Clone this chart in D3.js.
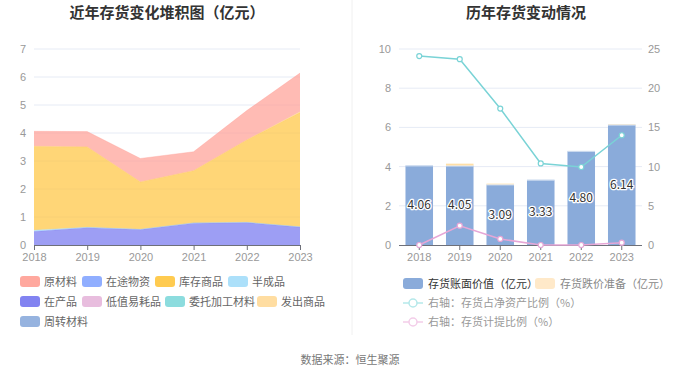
<!DOCTYPE html>
<html>
<head>
<meta charset="utf-8">
<script src="https://cdn.jsdelivr.net/npm/d3@7/dist/d3.min.js"></script>
<style>
  body { margin: 0; background: #fff; }
  svg { display: block; font-family: "Noto Sans CJK SC", "Noto Sans", sans-serif; }
</style>
</head>
<body>
<div id="chart"></div>
<script>
// years shared by both panels
const years = ['2018', '2019', '2020', '2021', '2022', '2023'];

// left panel: inventory breakdown (亿元)
const stockNames = ['原材料', '在途物资', '库存商品', '半成品', '在产品', '低值易耗品', '委托加工材料', '发出商品', '周转材料'];
const stockColors = ['#FF9E94', '#84A5FF', '#FFC53D', '#A3DDF9', '#7475F0', '#E5B6DA', '#80D8DA', '#FFD997', '#8BABDB'];
const rawMaterial = [0.53, 0.55, 0.84, 0.68, 1.05, 1.38];
const inTransit = [0, 0, 0, 0, 0, 0];
const finishedGoods = [2.99, 2.87, 1.69, 1.86, 2.94, 4.08];
const semiFinished = [0.05, 0.01, 0.01, 0.01, 0.01, 0.01];
const workInProgress = [0.48, 0.62, 0.55, 0.78, 0.80, 0.64];
const lowValue = [0, 0, 0, 0, 0, 0];
const consigned = [0, 0, 0, 0, 0, 0];
const shipped = [0.01, 0, 0, 0, 0, 0.03];
const turnover = [0, 0, 0, 0, 0, 0];
// stacking order from bottom to top as seen in the picture
const stackOrder = ['在产品', '半成品', '在途物资', '低值易耗品', '委托加工材料', '周转材料', '库存商品', '发出商品', '原材料'];
const leftTicks = [0, 1, 2, 3, 4, 5, 6, 7];

// right panel
const bookValue = [4.06, 4.05, 3.09, 3.33, 4.80, 6.14];
const impairment = [0, 0.1, 0.04, 0, 0, 0.02];
const ratioNetAssets = [24.1, 23.7, 17.4, 10.4, 9.95, 14.0];
const provisionRatio = [0, 2.46, 0.77, 0, 0, 0.3];
const rightLeftTicks = [0, 2, 4, 6, 8, 10];
const rightRightTicks = [0, 5, 10, 15, 20, 25];

const W = 700, H = 378;
const svg = d3.select('#chart').append('svg').attr('width', W).attr('height', H);

const gridColor = '#E6EBF5';
const labelColor = '#999';
const axisColor = '#6E7079';

// titles
svg.append('text').attr('x', 167).attr('y', 18).attr('text-anchor', 'middle')
  .attr('font-size', 15).attr('font-weight', 'bold').attr('fill', '#333')
  .text('近年存货变化堆积图（亿元）');
svg.append('text').attr('x', 526).attr('y', 18).attr('text-anchor', 'middle')
  .attr('font-size', 15).attr('font-weight', 'bold').attr('fill', '#333')
  .text('历年存货变动情况');

// divider
svg.append('line').attr('x1', 352).attr('x2', 352).attr('y1', 0).attr('y2', 335)
  .attr('stroke', '#F0F0F0').attr('stroke-width', 1);

// ---------- left: stacked area ----------
const seriesData = {
  '原材料': rawMaterial, '在途物资': inTransit, '库存商品': finishedGoods, '半成品': semiFinished,
  '在产品': workInProgress, '低值易耗品': lowValue, '委托加工材料': consigned, '发出商品': shipped, '周转材料': turnover
};
const table = years.map((y, i) => {
  const row = { year: y };
  stockNames.forEach(n => { row[n] = seriesData[n][i]; });
  return row;
});
const stacked = d3.stack().keys(stackOrder)(table);

const xL = d3.scalePoint().domain(years).range([34, 300]);
const yL = d3.scaleLinear().domain([0, 7]).range([245, 49]);

const gL = svg.append('g');
gL.selectAll('.grid').data(leftTicks.slice(1)).join('line')
  .attr('x1', 34).attr('x2', 300).attr('y1', d => yL(d)).attr('y2', d => yL(d))
  .attr('stroke', gridColor);

const area = d3.area().x((d, i) => xL(years[i])).y0(d => yL(d[0])).y1(d => yL(d[1]));
const topLine = d3.line().x((d, i) => xL(years[i])).y(d => yL(d[1]));
gL.selectAll('.layer').data(stacked).join('path')
  .attr('d', area)
  .attr('fill', d => stockColors[stockNames.indexOf(d.key)])
  .attr('fill-opacity', 0.7);
gL.selectAll('.edge').data(stacked.filter(s => d3.max(s, d => d[1] - d[0]) > 0)).join('path')
  .attr('d', topLine).attr('fill', 'none')
  .attr('stroke', d => stockColors[stockNames.indexOf(d.key)])
  .attr('stroke-opacity', 0.35).attr('stroke-width', 1);

const axL = gL.append('g').attr('transform', 'translate(0,245)')
  .call(d3.axisBottom(xL).tickSize(5).tickPadding(3));
axL.select('.domain').attr('stroke', axisColor);
axL.selectAll('.tick line').attr('stroke', axisColor);
axL.selectAll('text').attr('fill', labelColor).attr('font-size', 11).attr('font-family', 'inherit');

const ayL = gL.append('g').attr('transform', 'translate(34,0)')
  .call(d3.axisLeft(yL).tickValues(leftTicks).tickFormat(d3.format('d')).tickSize(0).tickPadding(8));
ayL.select('.domain').remove();
ayL.selectAll('text').attr('fill', labelColor).attr('font-size', 11).attr('font-family', 'inherit');

// left legend
const legendPos = [[20, 282], [82, 282], [155, 282], [228, 282], [20, 302], [82, 302], [165, 302], [257, 302], [20, 322]];
const lg = svg.append('g').selectAll('g').data(stockNames).join('g')
  .attr('transform', (d, i) => `translate(${legendPos[i][0]},${legendPos[i][1]})`);
lg.append('rect').attr('x', 0).attr('y', -6).attr('width', 20).attr('height', 11).attr('rx', 3)
  .attr('fill', (d, i) => stockColors[i]).attr('fill-opacity', 0.9);
lg.append('text').attr('x', 24).attr('y', 4).attr('font-size', 11).attr('fill', '#666').text(d => d);

// ---------- right: bars + lines ----------
const xR = d3.scaleBand().domain(years).range([399, 642]).paddingInner(0.32).paddingOuter(0.16);
const xC = d => xR(d) + xR.bandwidth() / 2;
const yR = d3.scaleLinear().domain([0, 10]).range([245, 49]);
const yR2 = d3.scaleLinear().domain([0, 25]).range([245, 49]);

const gR = svg.append('g');
gR.selectAll('.grid').data(rightLeftTicks.slice(1)).join('line')
  .attr('x1', 399).attr('x2', 642).attr('y1', d => yR(d)).attr('y2', d => yR(d))
  .attr('stroke', gridColor);

gR.selectAll('.bar').data(years).join('rect')
  .attr('x', d => xR(d)).attr('width', xR.bandwidth())
  .attr('y', (d, i) => yR(bookValue[i])).attr('height', (d, i) => yR(0) - yR(bookValue[i]))
  .attr('fill', '#8AABDA');
gR.selectAll('.imp').data(years).join('rect')
  .attr('x', d => xR(d)).attr('width', xR.bandwidth())
  .attr('y', (d, i) => yR(bookValue[i] + impairment[i]))
  .attr('height', (d, i) => yR(bookValue[i]) - yR(bookValue[i] + impairment[i]))
  .attr('fill', '#FFDFA6');
gR.selectAll('.barTop').data(years).join('line')
  .attr('x1', d => xR(d)).attr('x2', d => xR(d) + xR.bandwidth())
  .attr('y1', (d, i) => yR(bookValue[i]) + 0.5).attr('y2', (d, i) => yR(bookValue[i]) + 0.5)
  .attr('stroke', '#fff').attr('stroke-opacity', 0.6);

gR.selectAll('.barLabel').data(years).join('text')
  .attr('x', d => xC(d)).attr('y', (d, i) => yR(bookValue[i] / 2) + 4)
  .attr('text-anchor', 'middle').attr('font-size', 12).attr('fill', '#333')
  .attr('stroke', '#fff').attr('stroke-width', 2.5).attr('paint-order', 'stroke')
  .attr('stroke-linejoin', 'round')
  .text((d, i) => bookValue[i].toFixed(2));

const axR = gR.append('g').attr('transform', 'translate(0,245)')
  .call(d3.axisBottom(xR).tickSize(5).tickPadding(3));
axR.select('.domain').attr('stroke', axisColor).attr('d', 'M399,0.5H642');
axR.selectAll('.tick line').attr('stroke', axisColor);
axR.selectAll('text').attr('fill', labelColor).attr('font-size', 11).attr('font-family', 'inherit');

const ayR = gR.append('g').attr('transform', 'translate(399,0)')
  .call(d3.axisLeft(yR).tickValues(rightLeftTicks).tickSize(0).tickPadding(8));
ayR.select('.domain').remove();
ayR.selectAll('text').attr('fill', labelColor).attr('font-size', 11).attr('font-family', 'inherit');

const ayR2 = gR.append('g').attr('transform', 'translate(642,0)')
  .call(d3.axisRight(yR2).tickValues(rightRightTicks).tickSize(0).tickPadding(6));
ayR2.select('.domain').remove();
ayR2.selectAll('text').attr('fill', labelColor).attr('font-size', 11).attr('font-family', 'inherit');

function drawLine(vals, color) {
  const line = d3.line().x((d, i) => xC(years[i])).y(d => yR2(d));
  gR.append('path').datum(vals).attr('d', line).attr('fill', 'none')
    .attr('stroke', color).attr('stroke-width', 1.5);
  gR.selectAll(null).data(vals).join('circle')
    .attr('cx', (d, i) => xC(years[i])).attr('cy', d => yR2(d)).attr('r', 2.5)
    .attr('fill', '#fff').attr('stroke', color).attr('stroke-width', 1.2);
}
drawLine(ratioNetAssets, '#7AD3D6');
drawLine(provisionRatio, '#E6A6D6');

// right legend
const rl = svg.append('g');
rl.append('rect').attr('x', 403).attr('y', 278).attr('width', 20).attr('height', 11).attr('rx', 3).attr('fill', '#8AABDA');
rl.append('text').attr('x', 428).attr('y', 288).attr('font-size', 11).attr('fill', '#333').text('存货账面价值（亿元）');
rl.append('rect').attr('x', 535).attr('y', 278).attr('width', 20).attr('height', 11).attr('rx', 3).attr('fill', '#FFE9C9');
rl.append('text').attr('x', 560).attr('y', 288).attr('font-size', 11).attr('fill', '#888').text('存货跌价准备（亿元）');
const lineLegend = [['右轴：存货占净资产比例（%）', '#B5E8EA', 303], ['右轴：存货计提比例（%）', '#F3CDE9', 322]];
lineLegend.forEach(([label, color, y]) => {
  rl.append('line').attr('x1', 403).attr('x2', 423).attr('y1', y).attr('y2', y).attr('stroke', color).attr('stroke-width', 1.5);
  rl.append('circle').attr('cx', 413).attr('cy', y).attr('r', 4).attr('fill', '#fff').attr('stroke', color).attr('stroke-width', 1.5);
  rl.append('text').attr('x', 428).attr('y', y + 4).attr('font-size', 11).attr('fill', '#999').text(label);
});

// source
svg.append('text').attr('x', 350).attr('y', 364).attr('text-anchor', 'middle')
  .attr('font-size', 11).attr('fill', '#777').text('数据来源：恒生聚源');
</script>
</body>
</html>
